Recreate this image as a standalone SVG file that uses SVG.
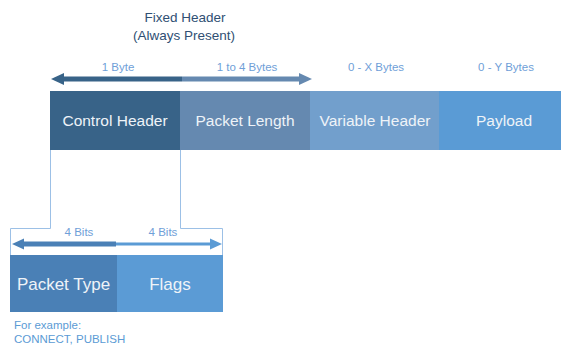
<svg xmlns="http://www.w3.org/2000/svg" width="561" height="345" viewBox="0 0 561 345">
<style>
text{font-family:"Liberation Sans",Arial,sans-serif}
.title{font-size:13.5px;fill:#2f4f73;text-anchor:middle}
.dim{font-size:11.5px;fill:#6fa0d8;text-anchor:middle}
.lbl{font-size:15.5px;fill:#eef3f8;text-anchor:middle}
.big{font-size:17px;fill:#eef3f8;text-anchor:middle}
.note{font-size:11.5px;fill:#5b9bd5}
.conn{fill:none;stroke:#9cc0e6;stroke-width:1}
</style>
<rect width="561" height="345" fill="#ffffff"/>
<g id="title">
<text class="title" x="185" y="22">Fixed Header</text>
<text class="title" x="184" y="40">(Always Present)</text>
</g>
<g id="dims-top">
<text class="dim" x="118" y="71">1 Byte</text>
<text class="dim" x="247" y="71">1 to 4 Bytes</text>
<text class="dim" x="376" y="71">0 - X Bytes</text>
<text class="dim" x="506" y="71">0 - Y Bytes</text>
<rect x="62" y="76.5" width="120" height="5" fill="#386388"/>
<polygon points="51,79 64,73 64,85" fill="#386388"/>
<rect x="182" y="76.5" width="118" height="5" fill="#6589b0"/>
<polygon points="312,79 299,73 299,85" fill="#6589b0"/>
</g>
<g id="control-header">
<rect x="50" y="91" width="130" height="59" fill="#386388"/>
<text class="lbl" x="115" y="126">Control Header</text>
</g>
<g id="packet-length">
<rect x="180" y="91" width="130" height="59" fill="#6589b0"/>
<text class="lbl" x="245" y="126">Packet Length</text>
</g>
<g id="variable-header">
<rect x="310" y="91" width="129" height="59" fill="#729fcc"/>
<text class="lbl" x="375" y="126">Variable Header</text>
</g>
<g id="payload">
<rect x="439" y="91" width="122" height="59" fill="#5a9bd5"/>
<text class="lbl" x="504" y="126">Payload</text>
</g>
<g id="connectors">
<polyline class="conn" points="50.5,150 50.5,228.5 10.5,228.5 10.5,255"/>
<polyline class="conn" points="180.5,150 180.5,228.5 222.5,228.5 222.5,255"/>
</g>
<g id="dims-bottom">
<text class="dim" x="79" y="236">4 Bits</text>
<text class="dim" x="163" y="236">4 Bits</text>
<rect x="22" y="241.5" width="94" height="5" fill="#4a80b6"/>
<polygon points="12,244 24,238.5 24,249.5" fill="#4a80b6"/>
<rect x="116" y="242.5" width="96" height="3" fill="#5b9bd5"/>
<polygon points="222,244 210,238.5 210,249.5" fill="#5b9bd5"/>
</g>
<g id="packet-type">
<rect x="10" y="255" width="107" height="57" fill="#4a80b6"/>
<text class="big" x="63.5" y="290">Packet Type</text>
</g>
<g id="flags">
<rect x="117" y="255" width="106" height="57" fill="#5b9bd5"/>
<text class="big" x="170" y="290">Flags</text>
</g>
<g id="note">
<text class="note" x="14" y="329">For example:</text>
<text class="note" x="14" y="343">CONNECT, PUBLISH</text>
</g>
</svg>
